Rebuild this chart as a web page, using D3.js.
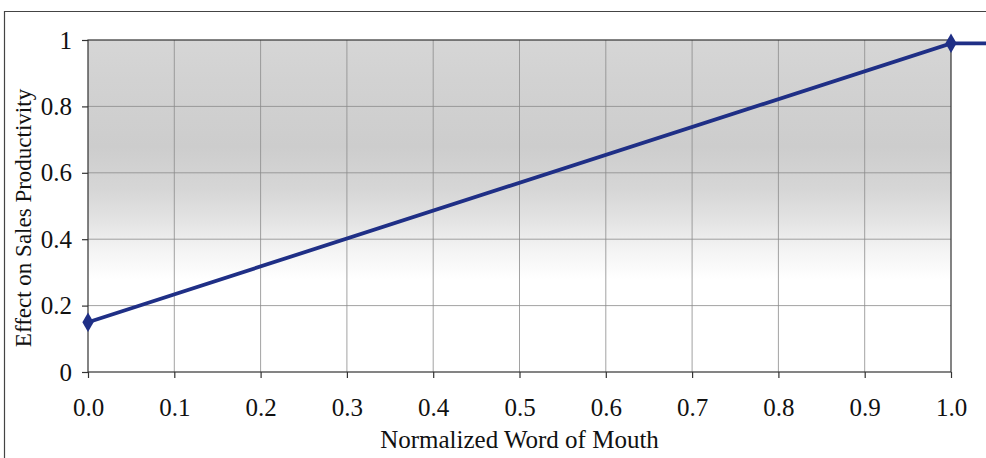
<!DOCTYPE html>
<html>
<head>
<meta charset="utf-8">
<script src="https://cdn.jsdelivr.net/npm/d3@7"></script>
<style>
  body { margin: 0; background: #fff; }
  svg { display: block; font-family: "Liberation Serif", "DejaVu Serif", serif; }
</style>
</head>
<body>
<svg id="chart" width="986" height="458"></svg>
<script>
// data
var wordOfMouth = [0.0, 1.0, 1.06];
var effect = [0.15, 0.99, 0.99];
var xTicks = [0, 0.1, 0.2, 0.3, 0.4, 0.5, 0.6, 0.7, 0.8, 0.9, 1.0];
var yTicks = [0, 0.2, 0.4, 0.6, 0.8, 1];

var margin = {top: 40, right: 35, bottom: 86, left: 88},
    width = 986,
    height = 458,
    plotW = width - margin.left - margin.right,
    plotH = height - margin.top - margin.bottom;

var svg = d3.select('#chart');

var x = d3.scaleLinear().domain([0, 1]).range([0, plotW]);
var y = d3.scaleLinear().domain([0, 1]).range([plotH, 0]);

//------------------------------------------------------------
// frame of the scanned figure

svg.append('path')
  .attr('d', 'M4.5,458 V11.5 H986')
  .attr('fill', 'none')
  .attr('stroke', '#444')
  .attr('stroke-width', 1.2);

//------------------------------------------------------------
// background shading

var defs = svg.append('defs');
var grad = defs.append('linearGradient')
  .attr('id', 'bg-grad')
  .attr('x1', 0).attr('y1', 0).attr('x2', 0).attr('y2', 1);
[[0, '#d6d6d6'], [0.12, '#d2d2d2'], [0.32, '#cdcdcd'], [0.45, '#d6d6d6'],
 [0.55, '#e4e4e4'], [0.63, '#f3f3f3'], [0.72, '#ffffff'], [1, '#ffffff']]
  .forEach(function(s) {
    grad.append('stop').attr('offset', s[0]).attr('stop-color', s[1]);
  });

var g = svg.append('g')
  .attr('transform', 'translate(' + margin.left + ',' + margin.top + ')');

g.append('rect')
  .attr('width', plotW)
  .attr('height', plotH)
  .attr('fill', 'url(#bg-grad)');

//------------------------------------------------------------
// grid

g.append('g').selectAll('line.vgrid')
  .data(xTicks.slice(1, -1))
  .enter().append('line')
    .attr('x1', function(d) { return x(d); })
    .attr('x2', function(d) { return x(d); })
    .attr('y1', 0).attr('y2', plotH)
    .attr('stroke', '#8a8a8a')
    .attr('stroke-width', 0.8);

g.append('g').selectAll('line.hgrid')
  .data(yTicks.slice(1, -1))
  .enter().append('line')
    .attr('y1', function(d) { return y(d); })
    .attr('y2', function(d) { return y(d); })
    .attr('x1', 0).attr('x2', plotW)
    .attr('stroke', '#8a8a8a')
    .attr('stroke-width', 0.8);

g.append('rect')
  .attr('width', plotW)
  .attr('height', plotH)
  .attr('fill', 'none')
  .attr('stroke', '#333')
  .attr('stroke-width', 1.2);

//------------------------------------------------------------
// axes

var xAxis = d3.axisBottom(x)
  .tickValues(xTicks)
  .tickFormat(d3.format('.1f'))
  .tickSize(6)
  .tickPadding(20);

var yAxis = d3.axisLeft(y)
  .tickValues(yTicks)
  .tickFormat(function(d) { return d === 0 || d === 1 ? d : d3.format('.1f')(d); })
  .tickSize(6)
  .tickPadding(10);

var gx = g.append('g')
  .attr('transform', 'translate(0,' + plotH + ')')
  .call(xAxis);
var gy = g.append('g').call(yAxis);

[gx, gy].forEach(function(ax) {
  ax.select('.domain').remove();
  ax.selectAll('line').attr('stroke', '#333').attr('stroke-width', 1.2);
  ax.selectAll('text')
    .attr('fill', '#111')
    .style('font-size', '25px')
    .style('font-family', '"Liberation Serif", serif');
});

svg.append('text')
  .attr('x', margin.left + plotW / 2)
  .attr('y', 448)
  .attr('text-anchor', 'middle')
  .attr('fill', '#111')
  .style('font-size', '25px')
  .text('Normalized Word of Mouth');

svg.append('text')
  .attr('transform', 'translate(31,' + (margin.top + plotH / 2 + 12) + ') rotate(-90)')
  .attr('text-anchor', 'middle')
  .attr('fill', '#111')
  .style('font-size', '23px')
  .text('Effect on Sales Productivity');

//------------------------------------------------------------
// series

var pts = wordOfMouth.map(function(d, i) { return {x: d, y: effect[i]}; });

g.append('path')
  .datum(pts)
  .attr('fill', 'none')
  .attr('stroke', '#1f2f86')
  .attr('stroke-width', 3.8)
  .attr('d', d3.line()
    .x(function(d) { return x(d.x); })
    .y(function(d) { return y(d.y); }));

g.selectAll('path.marker')
  .data(pts)
  .enter().append('path')
    .attr('class', 'marker')
    .attr('transform', function(d) { return 'translate(' + x(d.x) + ',' + y(d.y) + ')'; })
    .attr('d', d3.symbol().type(d3.symbolDiamond).size(110))
    .attr('fill', '#1f2f86');
</script>
</body>
</html>
